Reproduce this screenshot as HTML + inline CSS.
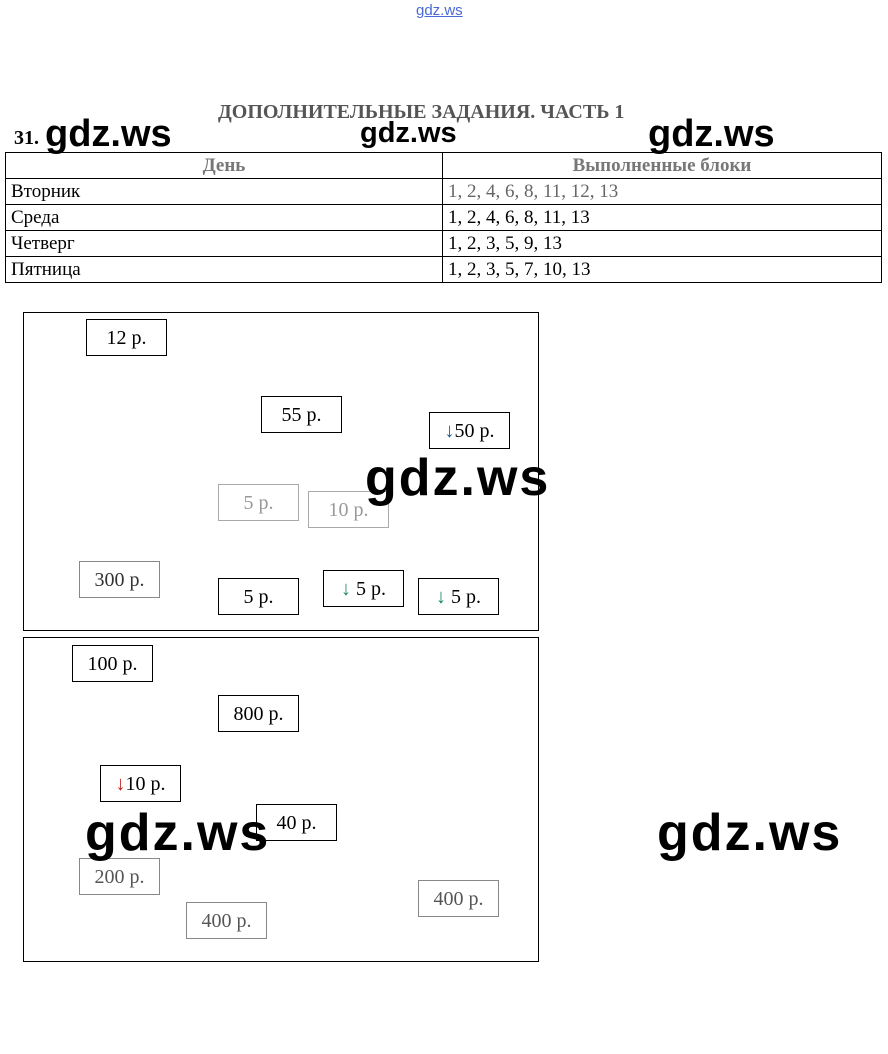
<!DOCTYPE html>
<html><head><meta charset="utf-8"><style>
body{margin:0;width:888px;height:1054px;background:#fff;position:relative;overflow:hidden;font-family:"Liberation Serif",serif;}
.a{position:absolute}
.b{position:absolute;border:1px solid #000;width:81px;height:37px;box-sizing:border-box;font-size:20px;line-height:37px;text-align:center;background:#fff}
.w{position:absolute;font-family:"Liberation Sans",sans-serif;font-weight:bold;color:#000;z-index:5}
table{position:absolute;left:5px;top:152px;width:877px;border-collapse:collapse;font-size:19px}
td{border:1px solid #000;height:25px;padding:0 5px;line-height:25px}
.fade{color:#999;border-color:#aaa}
</style></head><body>
<div class="a" style="left:416px;top:2px;font-family:'Liberation Sans',sans-serif;font-size:15px;color:#4a6ad8;text-decoration:underline">gdz.ws</div>
<div class="a" style="left:218px;top:101px;font-size:20px;font-weight:bold;color:#555">ДОПОЛНИТЕЛЬНЫЕ ЗАДАНИЯ. ЧАСТЬ 1</div>
<div class="a" style="left:14px;top:127px;font-size:20px;font-weight:bold">31.</div>
<table>
<tr><td style="width:426px;text-align:center;color:#777;font-weight:bold">День</td><td style="text-align:center;color:#777;font-weight:bold">Выполненные блоки</td></tr>
<tr><td>Вторник</td><td style="color:#666">1, 2, 4, 6, 8, 11, 12, 13</td></tr>
<tr><td>Среда</td><td>1, 2, 4, 6, 8, 11, 13</td></tr>
<tr><td>Четверг</td><td>1, 2, 3, 5, 9, 13</td></tr>
<tr><td>Пятница</td><td>1, 2, 3, 5, 7, 10, 13</td></tr>
</table>
<div class="a" style="left:23px;top:312px;width:516px;height:319px;border:1px solid #000;box-sizing:border-box"></div>
<div class="a" style="left:23px;top:637px;width:516px;height:325px;border:1px solid #000;box-sizing:border-box"></div>
<div class="b" style="left:86px;top:319px">12 р.</div>
<div class="b" style="left:261px;top:396px">55 р.</div>
<div class="b" style="left:429px;top:412px"><span style="color:#1a5a9a">↓</span>50 р.</div>
<div class="b fade" style="left:218px;top:484px">5 р.</div>
<div class="b fade" style="left:308px;top:491px">10 р.</div>
<div class="b" style="left:79px;top:561px;color:#333;border-color:#888">300 р.</div>
<div class="b" style="left:218px;top:578px">5 р.</div>
<div class="b" style="left:323px;top:570px"><span style="color:#1a8a5a">↓</span> 5 р.</div>
<div class="b" style="left:418px;top:578px"><span style="color:#1a8a5a">↓</span> 5 р.</div>
<div class="b" style="left:72px;top:645px">100 р.</div>
<div class="b" style="left:218px;top:695px">800 р.</div>
<div class="b" style="left:100px;top:765px"><span style="color:#c02020">↓</span>10 р.</div>
<div class="b" style="left:256px;top:804px">40 р.</div>
<div class="b" style="left:79px;top:858px;color:#555;border-color:#888">200 р.</div>
<div class="b" style="left:186px;top:902px;color:#555;border-color:#888">400 р.</div>
<div class="b" style="left:418px;top:880px;color:#555;border-color:#888">400 р.</div>
<div class="w" style="left:45px;top:113px;font-size:38px">gdz.ws</div>
<div class="w" style="left:360px;top:117px;font-size:29px">gdz.ws</div>
<div class="w" style="left:648px;top:113px;font-size:38px">gdz.ws</div>
<div class="w" style="left:365px;top:448px;font-size:52px;letter-spacing:2px">gdz.ws</div>
<div class="w" style="left:85px;top:803px;font-size:52px;letter-spacing:2px">gdz.ws</div>
<div class="w" style="left:657px;top:803px;font-size:52px;letter-spacing:2px">gdz.ws</div>
</body></html>
